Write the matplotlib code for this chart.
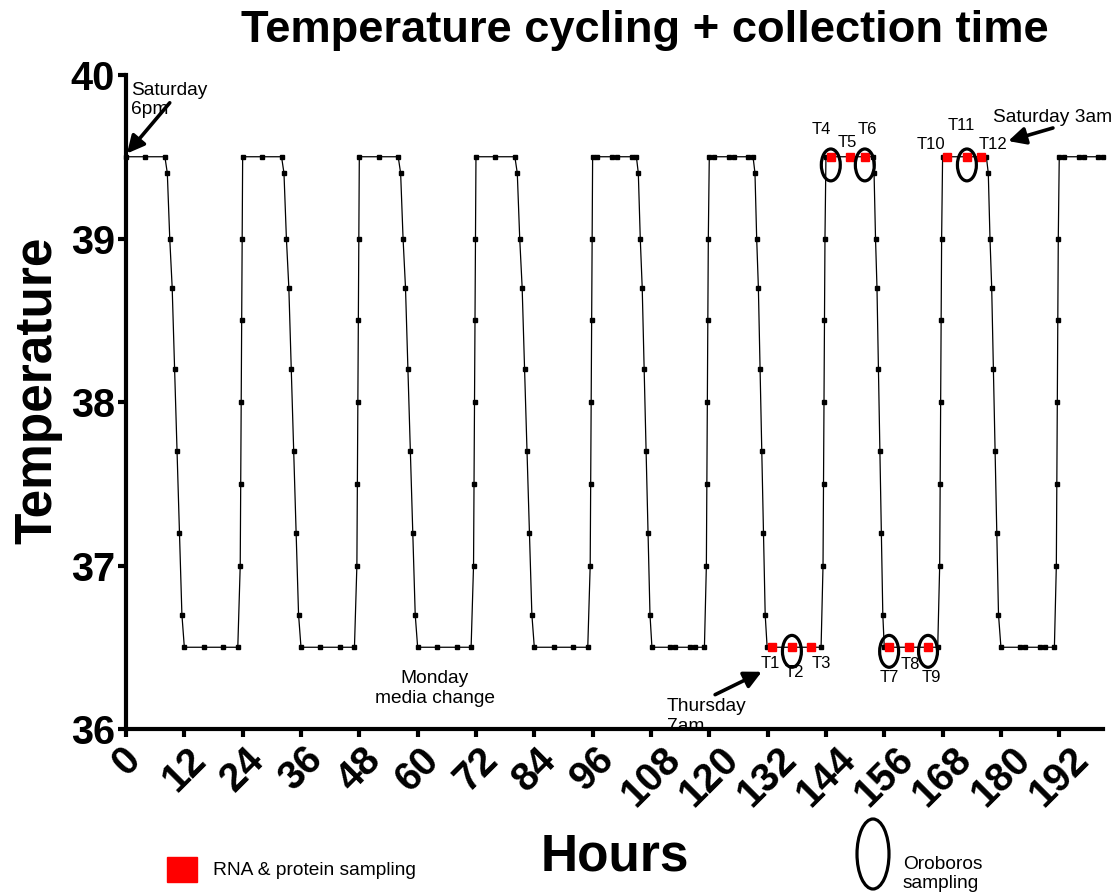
import matplotlib
matplotlib.use("Agg")
import matplotlib.pyplot as plt
from matplotlib.patches import Ellipse, Rectangle

plt.rcParams['font.family'] = ['Liberation Sans', 'DejaVu Sans']

# incubator log: hours since start, temperature (deg C)
hours = [
    0, 4, 8, 8.5, 9, 9.5, 10, 10.5, 11, 11.5, 12, 16, 20, 23, 23.5, 23.6, 23.7, 23.8, 23.9,
    24, 28, 32, 32.5, 33, 33.5, 34, 34.5, 35, 35.5, 36, 40, 44, 47, 47.5, 47.6, 47.7, 47.8, 47.9,
    48, 52, 56, 56.5, 57, 57.5, 58, 58.5, 59, 59.5, 60, 64, 68, 71, 71.5, 71.6, 71.7, 71.8, 71.9,
    72, 76, 80, 80.5, 81, 81.5, 82, 82.5, 83, 83.5, 84, 88, 92, 95, 95.5, 95.6, 95.7, 95.8, 95.9,
    96, 97, 100, 101, 104, 105, 105.4, 105.8, 106.2, 106.6, 107, 107.4, 107.8, 108.2, 112, 113,
    116, 117, 119, 119.4, 119.5, 119.6, 119.7, 119.8,
    120, 121, 124, 125, 128, 129, 129.4, 129.75, 130.1, 130.45, 130.8, 131.15, 131.5, 131.9,
    133, 137, 141, 143, 143.4, 143.5, 143.6, 143.7, 143.8,
    144, 145, 149, 152, 153.6, 153.9, 154.2, 154.5, 154.8, 155.1, 155.4, 155.7, 156,
    157, 161, 165, 167, 167.4, 167.5, 167.6, 167.7, 167.8,
    168, 169, 173, 176, 177, 177.4, 177.75, 178.1, 178.45, 178.8, 179.15, 179.5, 180,
    184, 185, 188, 189, 191, 191.4, 191.5, 191.6, 191.7, 191.8,
    192, 193, 196, 197, 200, 201,
]
temps = [
    39.5, 39.5, 39.5, 39.4, 39.0, 38.7, 38.2, 37.7, 37.2, 36.7, 36.5, 36.5, 36.5, 36.5, 37.0, 37.5, 38.0, 38.5, 39.0,
    39.5, 39.5, 39.5, 39.4, 39.0, 38.7, 38.2, 37.7, 37.2, 36.7, 36.5, 36.5, 36.5, 36.5, 37.0, 37.5, 38.0, 38.5, 39.0,
    39.5, 39.5, 39.5, 39.4, 39.0, 38.7, 38.2, 37.7, 37.2, 36.7, 36.5, 36.5, 36.5, 36.5, 37.0, 37.5, 38.0, 38.5, 39.0,
    39.5, 39.5, 39.5, 39.4, 39.0, 38.7, 38.2, 37.7, 37.2, 36.7, 36.5, 36.5, 36.5, 36.5, 37.0, 37.5, 38.0, 38.5, 39.0,
    39.5, 39.5, 39.5, 39.5, 39.5, 39.5, 39.4, 39.0, 38.7, 38.2, 37.7, 37.2, 36.7, 36.5, 36.5, 36.5,
    36.5, 36.5, 36.5, 37.0, 37.5, 38.0, 38.5, 39.0,
    39.5, 39.5, 39.5, 39.5, 39.5, 39.5, 39.4, 39.0, 38.7, 38.2, 37.7, 37.2, 36.7, 36.5,
    36.5, 36.5, 36.5, 36.5, 37.0, 37.5, 38.0, 38.5, 39.0,
    39.5, 39.5, 39.5, 39.5, 39.5, 39.4, 39.0, 38.7, 38.2, 37.7, 37.2, 36.7, 36.5,
    36.5, 36.5, 36.5, 36.5, 37.0, 37.5, 38.0, 38.5, 39.0,
    39.5, 39.5, 39.5, 39.5, 39.5, 39.4, 39.0, 38.7, 38.2, 37.7, 37.2, 36.7, 36.5,
    36.5, 36.5, 36.5, 36.5, 36.5, 37.0, 37.5, 38.0, 38.5, 39.0,
    39.5, 39.5, 39.5, 39.5, 39.5, 39.5,
]

# collection points
sample_names = ['T1', 'T2', 'T3', 'T4', 'T5', 'T6', 'T7', 'T8', 'T9', 'T10', 'T11', 'T12']
sample_hours = [133, 137, 141, 145, 149, 152, 157, 161, 165, 169, 173, 176]
sample_temps = [36.5, 36.5, 36.5, 39.5, 39.5, 39.5, 36.5, 36.5, 36.5, 39.5, 39.5, 39.5]
oroboros = ['T2', 'T4', 'T6', 'T7', 'T9', 'T11']

# label offsets (pixels) for the T names
label_offsets = [(-2, -16), (2, -25), (10, -16), (-9, 27), (-3, 14), (2, 27),
                 (0, -30), (2, -17), (3, -30), (-17, 12), (-6, 31), (12, 12)]

fig = plt.figure(figsize=(11.18, 8.96), dpi=100)
ax = fig.add_axes([126 / 1118, 1 - 729 / 896, 977 / 1118, 654 / 896])

ax.plot(hours, temps, color='black', lw=0.9, marker='s', ms=2.5, clip_on=False, zorder=3)
ax.plot(sample_hours, sample_temps, ls='none', marker='s', ms=6.3, color='red',
        mec='red', zorder=4, clip_on=False)

for name, h, t, (dx, dy) in zip(sample_names, sample_hours, sample_temps, label_offsets):
    ax.annotate(name, (h, t), xytext=(dx, dy), textcoords='offset pixels',
                ha='center', va='center', fontsize=12)
    if name in oroboros:
        yc = t - 0.05 if t > 38 else t - 0.025
        ax.add_patch(Ellipse((h, yc), 3.9, 0.195, fill=False, lw=2.3,
                             ec='black', zorder=5, clip_on=False))

# arrows and notes
arw = dict(arrowstyle='-|>', color='black', lw=2.6, mutation_scale=26, shrinkA=0, shrinkB=0)
ax.annotate('', xy=(0.2, 39.52), xytext=(9.0, 39.83), arrowprops=arw, zorder=6)
ax.text(1.0, 39.96, 'Saturday\n6pm', fontsize=13.8, ha='left', va='top', linespacing=1.2)

ax.annotate('', xy=(181.5, 39.596), xytext=(190.7, 39.676), arrowprops=arw, zorder=6)
ax.text(178.4, 39.743, 'Saturday 3am', fontsize=13.8, ha='left', va='center')

ax.annotate('', xy=(130.8, 36.35), xytext=(121.2, 36.21), arrowprops=arw, zorder=6)
ax.text(111.2, 36.19, 'Thursday\n7am', fontsize=13.8, ha='left', va='top', linespacing=1.2)

ax.text(63.5, 36.36, 'Monday\nmedia change', fontsize=13.8, ha='center', va='top',
        multialignment='center', linespacing=1.2)

ax.set_xlim(0, 201)
ax.set_ylim(36, 40)
ax.set_xticks(range(0, 193, 12))
ax.set_yticks([36, 37, 38, 39, 40])
for s in ['top', 'right']:
    ax.spines[s].set_visible(False)
for s in ['left', 'bottom']:
    ax.spines[s].set_linewidth(3)
ax.tick_params(width=3, length=6, labelsize=28.5, pad=2)
for lab in ax.get_yticklabels():
    lab.set_fontweight('bold')
for lab in ax.get_xticklabels():
    lab.set_fontweight('bold')
    lab.set_rotation(45)

fig.text(645 / 1118, 1 - 42 / 896, 'Temperature cycling + collection time',
         ha='center', va='baseline', fontsize=32.6, fontweight='bold')
fig.text(38 / 1118, 1 - 390 / 896, 'Temperature', rotation=90, ha='center', va='center',
         fontsize=37, fontweight='bold')
fig.text(615 / 1118, 1 - 857 / 896, 'Hours', ha='center', va='center',
         fontsize=37, fontweight='bold')

# key at the bottom
fig.patches.append(Rectangle((167 / 1118, 1 - 882 / 896), 30 / 1118, 25 / 896,
                             transform=fig.transFigure, color='red', figure=fig))
fig.text(213 / 1118, 1 - 870 / 896, 'RNA & protein sampling', fontsize=13.8, va='center')
fig.patches.append(Ellipse((873 / 1118, 1 - 854 / 896), 32 / 1118, 70 / 896,
                           transform=fig.transFigure, fill=False, lw=2.3, ec='black',
                           figure=fig))
fig.text(903 / 1118, 1 - 856 / 896, 'Oroboros\nsampling', fontsize=13.8, va='top',
         linespacing=1.15)

fig.savefig('out.png', dpi=100)
